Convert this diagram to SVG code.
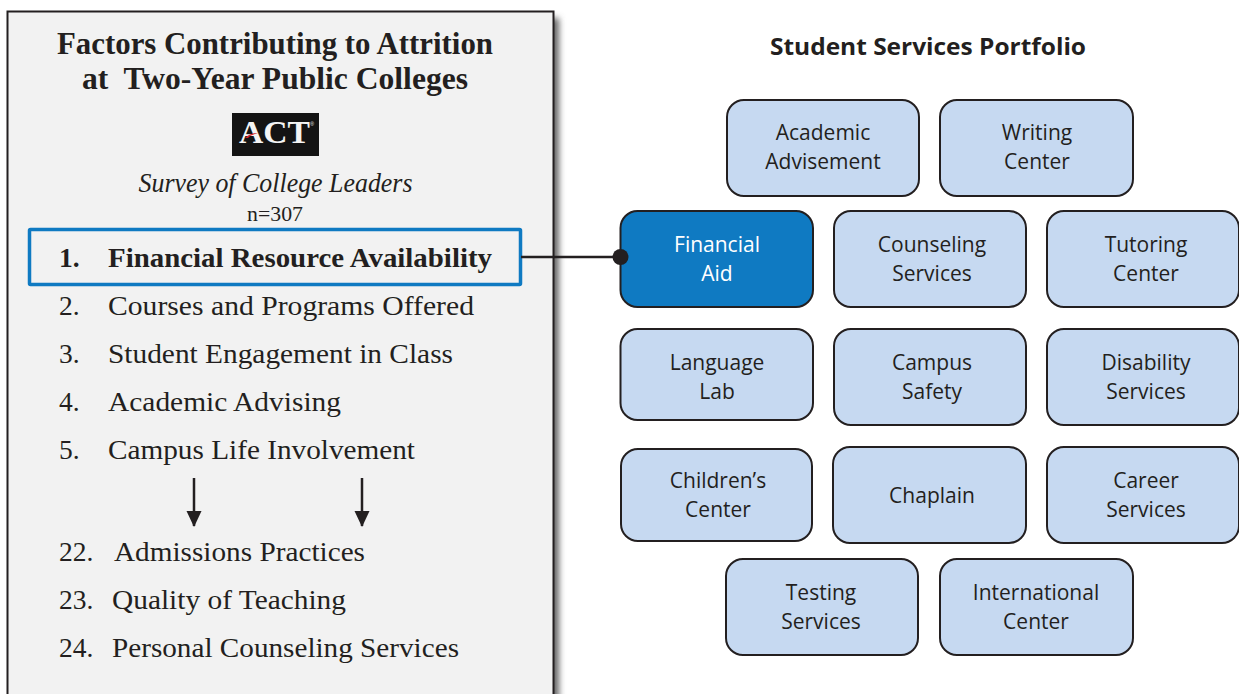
<svg xmlns="http://www.w3.org/2000/svg" width="1239" height="694" viewBox="0 0 1239 694">
<style>
.s{font-family:"Liberation Serif",serif;fill:#231f20}
.l{font-size:27.5px}
.t{font-size:31px;font-weight:bold;text-anchor:middle}
.b{fill:#c6d9f1;stroke:#231f20;stroke-width:2}
.c{font-family:"Open Sans","Liberation Sans",sans-serif;font-size:21px;fill:#231f20;text-anchor:middle}
</style>
<defs>
<filter id="sh" x="-5%" y="-5%" width="110%" height="110%"><feGaussianBlur stdDeviation="3"/></filter>
<marker id="ah" markerUnits="userSpaceOnUse" markerWidth="17" markerHeight="17" refX="15" refY="7.5" orient="auto"><path d="M0 0L16 7.5L0 15Z" fill="#231f20"/></marker>
</defs>
<rect width="1239" height="694" fill="#fff"/>
<g id="panel">
<rect x="14" y="18" width="545" height="690" fill="#666" filter="url(#sh)"/>
<rect x="7.500" y="11.500" width="546" height="700" fill="#f2f2f2" stroke="#231f20" stroke-width="2"/>
<text class="s t" x="275" y="54" textLength="436" lengthAdjust="spacingAndGlyphs">Factors Contributing to Attrition</text>
<text class="s t" x="275" y="89" xml:space="preserve" textLength="386" lengthAdjust="spacingAndGlyphs">at  Two-Year Public Colleges</text>
<g id="act-logo">
<rect x="232" y="113" width="87" height="43" fill="#141414"/>
<text x="274.500" y="143" font-family="Liberation Serif,serif" font-weight="bold" font-size="32" fill="#f4f4f4" text-anchor="middle" textLength="71" lengthAdjust="spacingAndGlyphs">ACT</text>
<text x="312" y="126" font-family="Liberation Sans,sans-serif" font-size="5" fill="#f4f4f4" text-anchor="middle">®</text>
<path d="M245 138Q250 133 258 133Q251 135 248 138Z" fill="#d2232a"/>
</g>
<text class="s" x="275.500" y="192" font-size="27" font-style="italic" text-anchor="middle" textLength="274" lengthAdjust="spacingAndGlyphs">Survey of College Leaders</text>
<text class="s" x="275" y="221" font-size="22" text-anchor="middle" textLength="56" lengthAdjust="spacingAndGlyphs">n=307</text>
<rect x="29.500" y="229.500" width="491" height="55" fill="none" stroke="#0f7ac2" stroke-width="3.500" rx="1"/>
<g font-weight="bold">
<text class="s l" x="59" y="267">1.</text>
<text class="s l" x="108" y="267" textLength="384" lengthAdjust="spacingAndGlyphs">Financial Resource Availability</text>
</g>
<text class="s l" x="59" y="315">2.</text><text class="s l" x="108" y="315" textLength="366" lengthAdjust="spacingAndGlyphs">Courses and Programs Offered</text>
<text class="s l" x="59" y="363">3.</text><text class="s l" x="108" y="363" textLength="345" lengthAdjust="spacingAndGlyphs">Student Engagement in Class</text>
<text class="s l" x="59" y="411">4.</text><text class="s l" x="108" y="411" textLength="233" lengthAdjust="spacingAndGlyphs">Academic Advising</text>
<text class="s l" x="59" y="459">5.</text><text class="s l" x="108" y="459" textLength="307" lengthAdjust="spacingAndGlyphs">Campus Life Involvement</text>
<text class="s l" x="59" y="561">22.</text><text class="s l" x="114" y="561" textLength="251" lengthAdjust="spacingAndGlyphs">Admissions Practices</text>
<text class="s l" x="59" y="609">23.</text><text class="s l" x="112" y="609" textLength="234" lengthAdjust="spacingAndGlyphs">Quality of Teaching</text>
<text class="s l" x="59" y="657">24.</text><text class="s l" x="112" y="657" textLength="347" lengthAdjust="spacingAndGlyphs">Personal Counseling Services</text>
</g>
<text id="portfolio-title" x="928" y="55" font-family="Open Sans,Liberation Sans,sans-serif" font-weight="bold" font-size="24" fill="#231f20" text-anchor="middle" textLength="316" lengthAdjust="spacingAndGlyphs">Student Services Portfolio</text>
<g id="n1"><rect class="b" x="727" y="100" width="192" height="96" rx="17"/><text class="c" x="823" y="140">Academic</text><text class="c" x="823" y="169">Advisement</text></g>
<g id="n2"><rect class="b" x="940" y="100" width="193" height="96" rx="17"/><text class="c" x="1037" y="140">Writing</text><text class="c" x="1037" y="169">Center</text></g>
<g id="n3"><rect x="620.500" y="211" width="192.500" height="96" rx="17" fill="#0f7ac2" stroke="#231f20" stroke-width="2"/><text class="c" x="717" y="252" style="fill:#fff">Financial</text><text class="c" x="717" y="281" style="fill:#fff">Aid</text></g>
<g id="n4"><rect class="b" x="834" y="211" width="192" height="96" rx="17"/><text class="c" x="932" y="252">Counseling</text><text class="c" x="932" y="281">Services</text></g>
<g id="n5"><rect class="b" x="1047" y="211" width="192" height="96" rx="17"/><text class="c" x="1146" y="252">Tutoring</text><text class="c" x="1146" y="281">Center</text></g>
<g id="n6"><rect class="b" x="620.500" y="329" width="192.500" height="91" rx="17"/><text class="c" x="717" y="370">Language</text><text class="c" x="717" y="399">Lab</text></g>
<g id="n7"><rect class="b" x="834" y="329" width="192" height="96" rx="17"/><text class="c" x="932" y="370">Campus</text><text class="c" x="932" y="399">Safety</text></g>
<g id="n8"><rect class="b" x="1047" y="329" width="192" height="96" rx="17"/><text class="c" x="1146" y="370">Disability</text><text class="c" x="1146" y="399">Services</text></g>
<g id="n9"><rect class="b" x="621" y="449" width="191" height="92" rx="17"/><text class="c" x="718" y="488">Children’s</text><text class="c" x="718" y="517">Center</text></g>
<g id="n10"><rect class="b" x="833" y="447" width="193" height="96" rx="17"/><text class="c" x="932" y="503">Chaplain</text></g>
<g id="n11"><rect class="b" x="1047" y="447" width="192" height="96" rx="17"/><text class="c" x="1146" y="488">Career</text><text class="c" x="1146" y="517">Services</text></g>
<g id="n12"><rect class="b" x="726" y="559" width="192" height="96" rx="17"/><text class="c" x="821" y="600">Testing</text><text class="c" x="821" y="629">Services</text></g>
<g id="n13"><rect class="b" x="940" y="559" width="193" height="96" rx="17"/><text class="c" x="1036" y="600">International</text><text class="c" x="1036" y="629">Center</text></g>
<g id="connectors" stroke="#231f20" fill="none">
<line x1="521" y1="257" x2="620" y2="257" stroke-width="2.500"/>
<circle cx="620.500" cy="257" r="8" fill="#231f20" stroke="none"/>
<line x1="194" y1="478" x2="194" y2="526" stroke-width="2.500" marker-end="url(#ah)"/>
<line x1="362" y1="478" x2="362" y2="526" stroke-width="2.500" marker-end="url(#ah)"/>
</g>
</svg>
